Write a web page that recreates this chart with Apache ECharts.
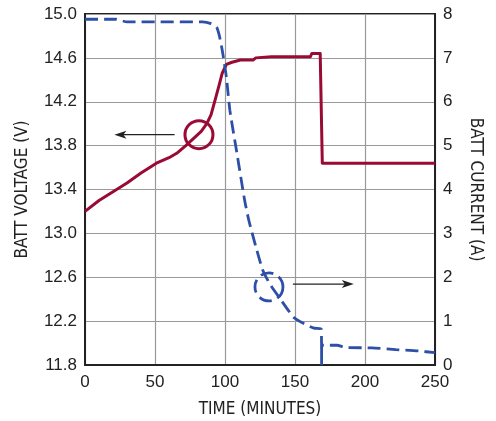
<!DOCTYPE html>
<html>
<head>
<meta charset="utf-8">
<script src="https://cdn.jsdelivr.net/npm/echarts@6/dist/echarts.min.js"></script>
<style>
  html, body { margin: 0; padding: 0; background: #fff; }
  #chart { width: 496px; height: 421px; }
</style>
</head>
<body>
<div id="chart"></div>
<script>
// battery voltage, minutes vs volts
const voltTime = [0, 10, 20, 30, 40, 51, 60, 65.5, 72, 78, 83, 87, 90, 93, 96, 98, 101, 105, 111, 120, 122, 133, 161, 162, 168, 169.5, 250];
const voltValues = [13.2, 13.3, 13.38, 13.46, 13.55, 13.64, 13.69, 13.73, 13.8, 13.87, 13.93, 14.0, 14.08, 14.22, 14.36, 14.46, 14.54, 14.56, 14.58, 14.58, 14.6, 14.61, 14.61, 14.64, 14.64, 13.64, 13.64];

// battery current, minutes vs amps
const currTime = [0, 22, 30, 84, 90, 94, 96, 98, 101, 103.5, 108.5, 114, 117, 122, 127, 132, 138.5, 149, 156, 163.5, 168.8, 169, 169, 180, 186, 205, 222, 238, 250];
const currValues = [7.88, 7.88, 7.82, 7.82, 7.78, 7.7, 7.5, 7.18, 6.56, 5.8, 4.83, 3.76, 3.3, 2.7, 2.16, 1.85, 1.55, 1.09, 0.95, 0.84, 0.82, 0, 0.45, 0.45, 0.4, 0.39, 0.35, 0.32, 0.28];

// annotation marks: circle centre and arrow (from, to) in data units
const voltMarker = { t: 81.4, v: 13.9, from: 64, to: 21 };
const currMarker = { t: 131.4, a: 1.78, from: 148.5, to: 192, y: 1.845 };

const RED = '#990a35';
const BLUE = '#2d4fa8';
const tickFont = '"Liberation Sans", Arial, sans-serif';
const nameFont = '"Liberation Sans Narrow", "Arial Narrow", "DejaVu Sans Condensed", sans-serif';

const chart = echarts.init(document.getElementById('chart'));

const zip = (xs, ys) => xs.map((x, i) => [x, ys[i]]);

chart.setOption({
    animation: false,
    grid: {
        left: 85, right: 61, top: 14, bottom: 56,
        outerBoundsMode: 'none',
        containLabel: false,
        show: true, borderColor: '#222', borderWidth: 2,
    },
    xAxis: {
        type: 'value',
        min: 0, max: 250, interval: 50,
        name: 'TIME (MINUTES)',
        nameLocation: 'middle',
        nameGap: 36,
        nameTextStyle: { fontFamily: nameFont, fontSize: 17, color: '#222' },
        axisLine: { lineStyle: { color: '#222', width: 2 } },
        axisTick: { show: false },
        axisLabel: { fontFamily: tickFont, fontSize: 17, color: '#222', margin: 9 },
        splitLine: { lineStyle: { color: '#999', width: 1.2 } },
    },
    yAxis: [
        {
            type: 'value',
            min: 11.8, max: 15.0, interval: 0.4,
            name: 'BATT VOLTAGE (V)',
            nameLocation: 'middle',
            nameGap: 54,
            nameTextStyle: { fontFamily: nameFont, fontSize: 17, color: '#222' },
            axisLine: { show: true, lineStyle: { color: '#222', width: 2 } },
            axisTick: { show: false },
            axisLabel: {
                fontFamily: tickFont, fontSize: 17, color: '#222', margin: 8,
                formatter: (v) => v.toFixed(1),
            },
            splitLine: { lineStyle: { color: '#999', width: 1.2 } },
        },
        {
            type: 'value',
            position: 'right',
            min: 0, max: 8, interval: 1,
            name: 'BATT CURRENT (A)',
            nameLocation: 'middle',
            nameGap: 32,
            nameRotate: -90,
            nameTextStyle: { fontFamily: nameFont, fontSize: 17, color: '#222' },
            axisLine: { show: true, lineStyle: { color: '#222', width: 2 } },
            axisTick: { show: false },
            axisLabel: { fontFamily: tickFont, fontSize: 17, color: '#222', margin: 8 },
            splitLine: { show: false },
        },
    ],
    series: [
        {
            type: 'line',
            yAxisIndex: 0,
            data: zip(voltTime, voltValues),
            showSymbol: false,
            smooth: false,
            lineStyle: { color: RED, width: 3, join: 'round' },
        },
        {
            type: 'line',
            yAxisIndex: 1,
            data: zip(currTime, currValues),
            showSymbol: false,
            smooth: 0.2,
            lineStyle: { color: BLUE, width: 2.8, type: [13, 6] },
        },
    ],
});

// circles and arrows placed through the axes
const pxV = (t, v) => chart.convertToPixel({ xAxisIndex: 0, yAxisIndex: 0 }, [t, v]);
const pxA = (t, a) => chart.convertToPixel({ xAxisIndex: 0, yAxisIndex: 1 }, [t, a]);

function arrow(p0, p1) {
    const dir = Math.sign(p1[0] - p0[0]);
    const tip = p1[0];
    const y = p1[1];
    return [
        {
            type: 'line',
            shape: { x1: p0[0], y1: y, x2: tip - dir * 8, y2: y },
            style: { stroke: '#222', lineWidth: 1.2 },
            z: 100,
        },
        {
            type: 'polygon',
            shape: { points: [[tip, y], [tip - dir * 12, y - 4], [tip - dir * 9, y], [tip - dir * 12, y + 4]] },
            style: { fill: '#222' },
            z: 100,
        },
    ];
}

const cV = pxV(voltMarker.t, voltMarker.v);
const cA = pxA(currMarker.t, currMarker.a);

chart.setOption({
    graphic: [
        {
            type: 'circle',
            shape: { cx: cV[0], cy: cV[1], r: 14 },
            style: { fill: 'none', stroke: RED, lineWidth: 3 },
            z: 100,
        },
        {
            type: 'circle',
            shape: { cx: cA[0], cy: cA[1], r: 14 },
            style: { fill: 'none', stroke: BLUE, lineWidth: 2.8, lineDash: [13, 6] },
            z: 100,
        },
        ...arrow(pxV(voltMarker.from, voltMarker.v), pxV(voltMarker.to, voltMarker.v)),
        ...arrow(pxA(currMarker.from, currMarker.y), pxA(currMarker.to, currMarker.y)),
    ],
});

window.addEventListener('resize', chart.resize);
</script>
</body>
</html>
